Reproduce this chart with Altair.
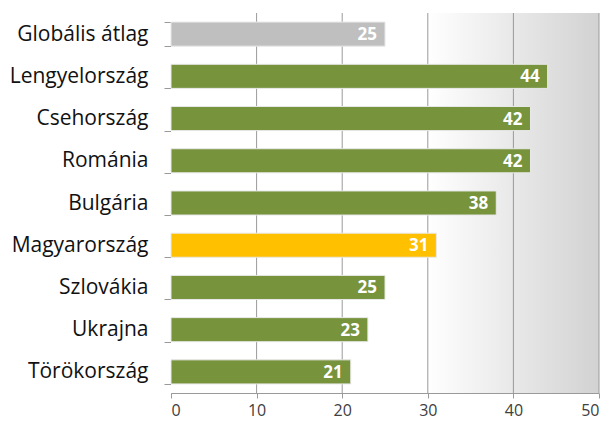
import altair as alt
import pandas as pd

categories = ["Globális átlag", "Lengyelország", "Csehország", "Románia", "Bulgária",
              "Magyarország", "Szlovákia", "Ukrajna", "Törökország"]
values = [25, 44, 42, 42, 38, 31, 25, 23, 21]
colors = ["#bfbfbf", "#77933c", "#77933c", "#77933c", "#77933c",
          "#ffc000", "#77933c", "#77933c", "#77933c"]
tick_values = [0, 10, 20, 30, 40, 50]
grid_values = [10, 20, 30, 40, 50]

df = pd.DataFrame({"cat": categories, "val": values, "col": colors})
bg = pd.DataFrame({"x0": [0], "x1": [50]})
gdf = pd.DataFrame({"g": grid_values})

FONT = "Open Sans"
H = 380
W = 428
xscale = alt.Scale(domain=[0, 50], nice=False)
yscale = alt.Scale(domain=categories, paddingInner=0.43, paddingOuter=0.215)
xaxis = alt.Axis(values=tick_values, grid=False, domainColor="#9a9a9a", tickColor="#9a9a9a",
                 tickSize=5, labelFontSize=16, labelColor="#404040",
                 labelFont=FONT, labelPadding=4, title=None)
yaxis = alt.Axis(title=None, labelFontSize=21, labelColor="#111111", labelFont=FONT,
                 domainColor="#9a9a9a", tickColor="#9a9a9a", tickSize=7,
                 tickBand="extent", labelPadding=16)

background = alt.Chart(bg).mark_rect(
    color=alt.LinearGradient(
        gradient="linear", x1=0, x2=1, y1=0, y2=0,
        stops=[alt.GradientStop(offset=0, color="#ffffff"),
               alt.GradientStop(offset=0.6, color="#ffffff"),
               alt.GradientStop(offset=1, color="#d2d2d2")]
    )
).encode(
    x=alt.X("x0:Q", scale=xscale, axis=xaxis),
    x2="x1:Q",
    y=alt.value(0),
    y2=alt.value(H),
)

grid = alt.Chart(gdf).mark_rule(color="#9a9a9a", strokeWidth=1).encode(
    x=alt.X("g:Q", scale=xscale, axis=xaxis),
    y=alt.value(0),
    y2=alt.value(H),
)

bars = alt.Chart(df).mark_bar(stroke="#e8e8e8", strokeWidth=1).encode(
    x=alt.X("val:Q", scale=xscale, axis=xaxis),
    y=alt.Y("cat:N", scale=yscale, sort=categories, axis=yaxis),
    color=alt.Color("col:N", scale=None),
)

labels = alt.Chart(df).mark_text(
    align="right", baseline="middle", dx=-8, dy=1, color="white",
    fontWeight="bold", fontSize=17, font=FONT
).encode(
    x=alt.X("val:Q", scale=xscale, axis=xaxis),
    y=alt.Y("cat:N", scale=yscale, sort=categories, axis=yaxis),
    text="val:Q",
)

chart = alt.layer(background, grid, bars, labels).properties(
    width=W, height=H,
    autosize=alt.AutoSizeParams(type="none"),
    padding={"left": 163, "top": 5, "right": 9, "bottom": 27},
).configure_view(stroke=None)

chart.save("out.html", embed_options={"renderer": "svg", "actions": False})
